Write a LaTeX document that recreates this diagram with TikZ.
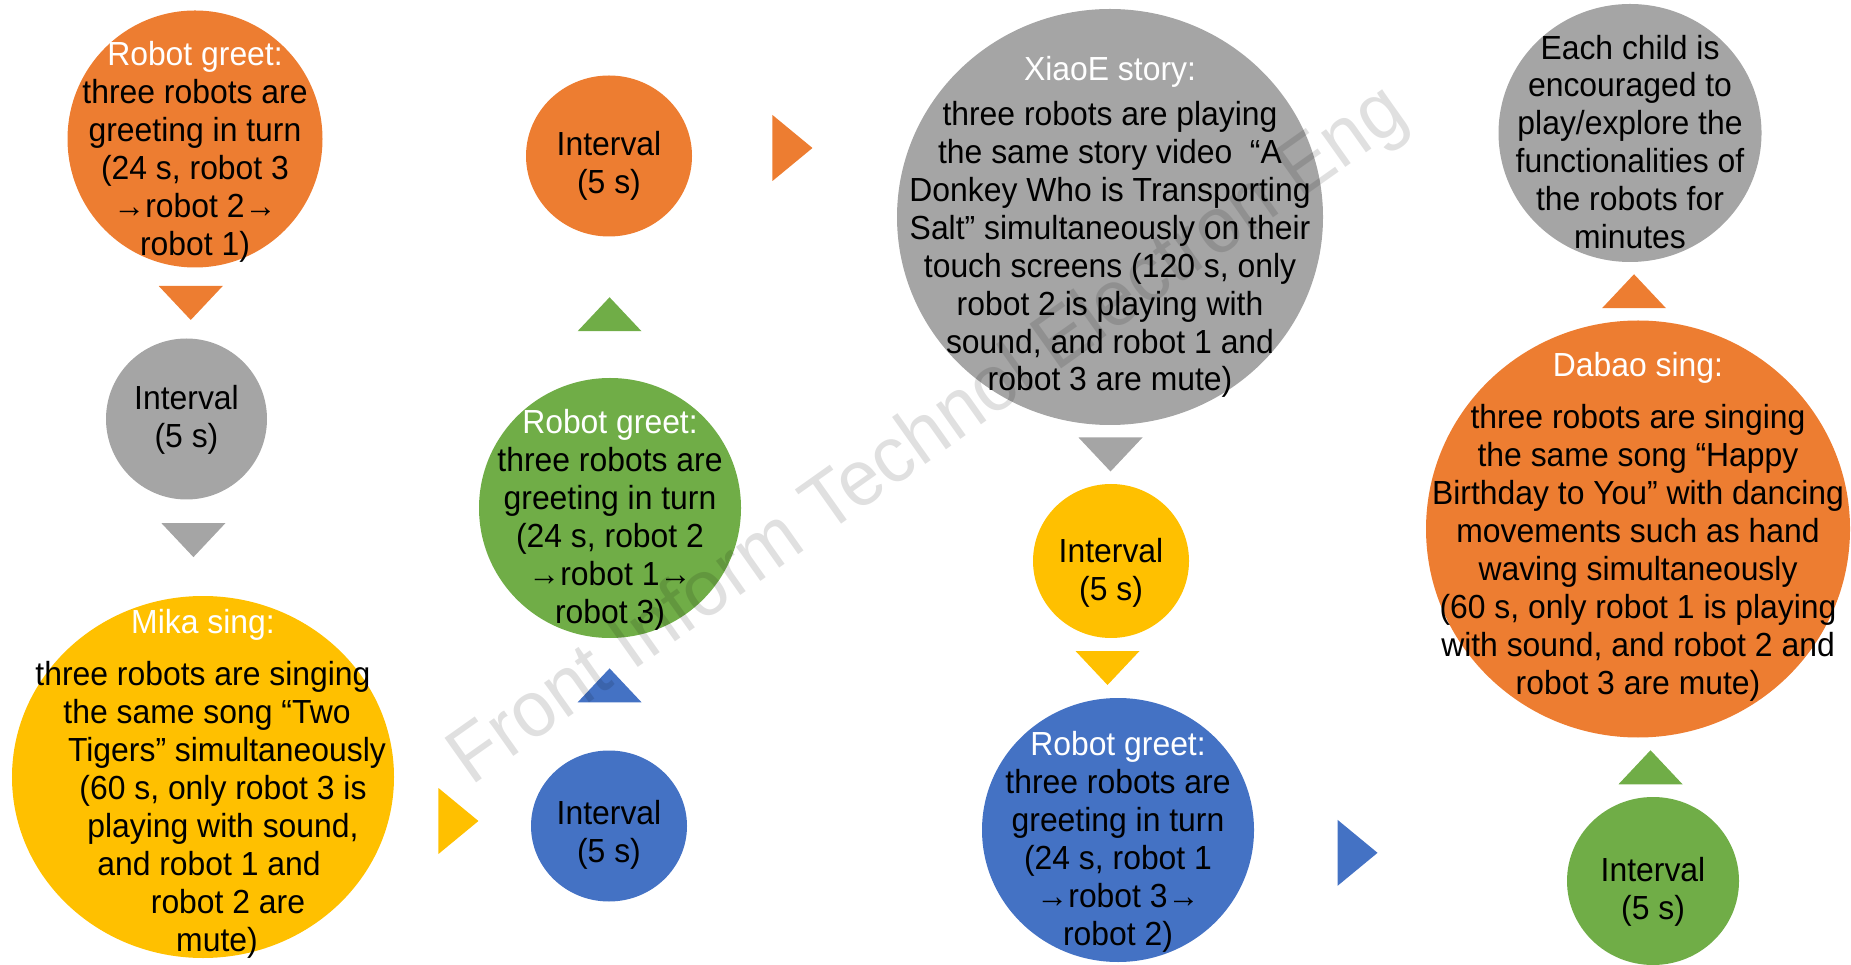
\documentclass[tikz,border=0pt]{standalone}
\usepackage{fontspec}
\setmainfont{Liberation Sans}[FakeStretch=0.955]
\usetikzlibrary{shapes.geometric,calc}

\definecolor{actorange}{HTML}{ED7D31}
\definecolor{actgray}{HTML}{A5A5A5}
\definecolor{actyellow}{HTML}{FFC000}
\definecolor{actblue}{HTML}{4472C4}
\definecolor{actgreen}{HTML}{70AD47}

\tikzset{
    bubble/.style={ellipse, inner sep=0pt, draw=none},
    words/.style={align=center, inner sep=0pt, font=\fontsize{9.5}{10.8}\selectfont},
}
\newcommand{\head}[1]{\textcolor{white}{#1}}
%% Triangles between the bubbles
\newcommand{\tridown}[2]{\fill[#1] (#2) ++(-0.32,0.17) -- ++(0.64,0) -- ++(-0.32,-0.34) -- cycle;}
\newcommand{\triup}[2]{\fill[#1] (#2) ++(-0.32,-0.17) -- ++(0.64,0) -- ++(-0.32,0.34) -- cycle;}
\newcommand{\triright}[2]{\fill[#1] (#2) ++(-0.2,0.33) -- ++(0,-0.66) -- ++(0.4,0.33) -- cycle;}

\begin{document}
\begin{tikzpicture}
        \useasboundingbox (0,0) rectangle (18.51,9.64);
        %% Bubbles
        \node[bubble, fill=actorange, minimum width=2.55cm, minimum height=2.57cm] (o1) at (1.95,8.25) {};
        \node[bubble, fill=actgray, minimum width=1.61cm, minimum height=1.61cm] (g1) at (1.865,5.45) {};
        \node[bubble, fill=actyellow, minimum width=3.82cm, minimum height=3.62cm] (mika) at (2.03,1.87) {};
        \node[bubble, fill=actblue, minimum width=1.56cm, minimum height=1.51cm] (b1) at (6.09,1.38) {};
        \node[bubble, fill=actgreen, minimum width=2.62cm, minimum height=2.60cm] (g2) at (6.10,4.56) {};
        \node[bubble, fill=actorange, minimum width=1.66cm, minimum height=1.61cm] (o2) at (6.09,8.08) {};
        \node[bubble, fill=actgray, minimum width=4.26cm, minimum height=4.16cm] (xiaoe) at (11.10,7.47) {};
        \node[bubble, fill=actyellow, minimum width=1.56cm, minimum height=1.54cm] (y2) at (11.11,4.03) {};
        \node[bubble, fill=actblue, minimum width=2.72cm, minimum height=2.64cm] (b2) at (11.18,1.34) {};
        \node[bubble, fill=actgreen, minimum width=1.72cm, minimum height=1.68cm] (g3) at (16.53,0.83) {};
        \node[bubble, fill=actorange, minimum width=4.24cm, minimum height=4.17cm] (dabao) at (16.38,4.35) {};
        \node[bubble, fill=actgray, minimum width=2.63cm, minimum height=2.58cm] (each) at (16.30,8.31) {};
        %% Texts
        \node[words, yshift=-0.13cm] (o1-t) at (o1) {\head{Robot greet:}\\three robots are\\greeting in turn\\(24 s, robot 3\\→robot 2→\\robot 1)};
        \node[words, yshift=-0.01cm] (g1-t) at (g1) {Interval\\(5 s)};
        \node[words, yshift=-0.07cm] (mika-t) at (mika) {\head{Mika sing:}\\[4pt]three robots are singing\\\hspace*{0.08cm}the same song “Two\\\hspace*{0.48cm}Tigers” simultaneously\\\hspace*{0.4cm}(60 s, only robot 3 is\\\hspace*{0.4cm}playing with sound,\\\hspace*{0.12cm}and robot 1 and\\\hspace*{0.5cm}robot 2 are\\\hspace*{0.28cm}mute)};
        \node[words, yshift=-0.09cm] (b1-t) at (b1) {Interval\\(5 s)};
        \node[words, yshift=-0.12cm] (g2-t) at (g2) {\head{Robot greet:}\\three robots are\\greeting in turn\\(24 s, robot 2\\→robot 1→\\robot 3)};
        \node[words, yshift=-0.10cm] (o2-t) at (o2) {Interval\\(5 s)};
        \node[words, yshift=-0.10cm] (xiaoe-t) at (xiaoe) {\head{XiaoE story:}\\[2pt]three robots are playing\\the same story video \ “A\\Donkey Who is Transporting\\Salt” simultaneously on their\\touch screens (120 s, only\\robot 2 is playing with\\sound, and robot 1 and\\robot 3 are mute)};
        \node[words, yshift=-0.12cm] (y2-t) at (y2) {Interval\\(5 s)};
        \node[words, yshift=-0.12cm] (b2-t) at (b2) {\head{Robot greet:}\\three robots are\\greeting in turn\\(24 s, robot 1\\→robot 3→\\robot 2)};
        \node[words, yshift=-0.11cm] (g3-t) at (g3) {Interval\\(5 s)};
        \node[words, yshift=0.02cm] (dabao-t) at (dabao) {\head{Dabao sing:}\\[4pt]three robots are singing\\the same song “Happy\\Birthday to You” with dancing\\movements such as hand\\waving simultaneously\\(60 s, only robot 1 is playing\\with sound, and robot 2 and\\robot 3 are mute)};
        \node[words, yshift=-0.09cm] (each-t) at (each) {Each child is\\encouraged to\\play/explore the\\functionalities of\\the robots for\\minutes};
        %% Triangles
        \tridown{actorange}{$(o1.south)!0.5!(g1.north)$}
        \tridown{actgray}{$(g1.south)!0.42!(mika.north)$}
        \coordinate (ymid) at ($(mika.east)!0.47!(b1.west)$);
        \triright{actyellow}{$(ymid |- b1)+(0,0.05)$}
        \triup{actblue}{$(b1.north)!0.58!(g2.south)$}
        \triup{actgreen}{$(g2.north)!0.45!(o2.south)$}
        \coordinate (omid) at ($(o2.east)!0.49!(xiaoe.west)$);
        \triright{actorange}{$(omid |- o2)+(0,0.08)$}
        \tridown{actgray}{$(xiaoe.south)!0.5!(y2.north)$}
        \tridown{actyellow}{$(y2.south)!0.5!(b2.north)+(-0.07,0)$}
        \triright{actblue}{$(b2.east)!0.33!(g3.west)+(0,-0.06)$}
        \triup{actgreen}{$(g3.north)!0.5!(dabao.south)+(0.05,0)$}
        \triup{actorange}{$(dabao.north)!0.5!(each.south)$}
        %% Watermark
        \node[rotate=35.3, text=black, opacity=0.12, font=\fontsize{22.6}{27}\selectfont] (mark) at (9.29,5.27) {Front Inform Technol Electron Eng};
    \end{tikzpicture}
\end{document}
